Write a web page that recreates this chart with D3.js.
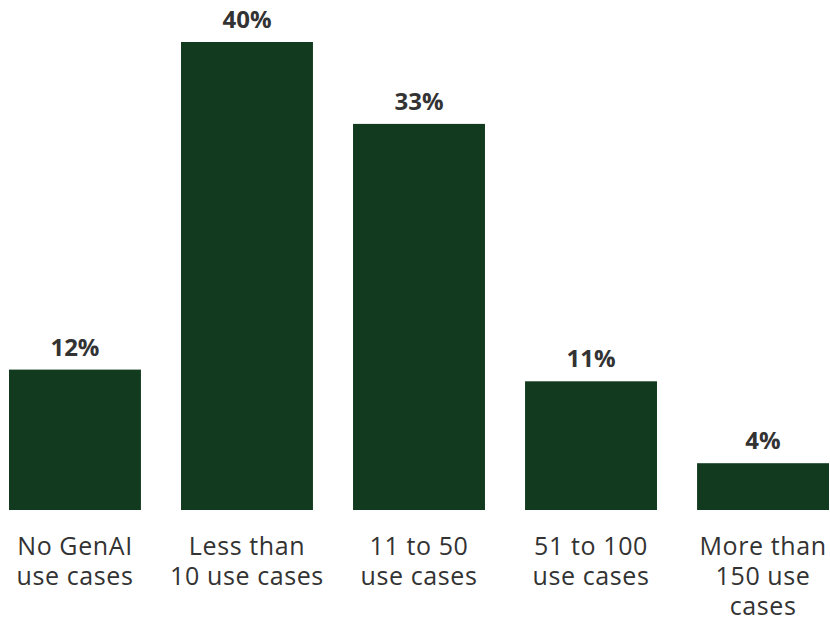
<!DOCTYPE html>
<html><head><meta charset="utf-8">
<script src="https://cdn.jsdelivr.net/npm/d3@7"></script>
<style>body{margin:0;background:#fff}svg{display:block}</style>
</head><body>
<script>
const categories = ["No GenAI use cases","Less than 10 use cases","11 to 50 use cases","51 to 100 use cases","More than 150 use cases"];
const categoryLines = [["No GenAI","use cases"],["Less than","10 use cases"],["11 to 50","use cases"],["51 to 100","use cases"],["More than","150 use","cases"]];
const values = [12,40,33,11,4];

const W=830,H=623;
const svg=d3.select("body").append("svg").attr("width",W).attr("height",H);
const x=d3.scaleBand().domain(categories).range([9,829]).paddingInner(0.233).paddingOuter(0);
const y=d3.scaleLinear().domain([0,40]).range([510,42]);

svg.selectAll("rect.bar").data(values).join("rect").attr("class","bar")
 .attr("x",(d,i)=>x(categories[i])).attr("width",x.bandwidth())
 .attr("y",d=>y(d)).attr("height",d=>y(0)-y(d)).attr("fill","#113a1e");

svg.selectAll("text.val").data(values).join("text").attr("class","val")
 .attr("x",(d,i)=>x(categories[i])+x.bandwidth()/2).attr("y",d=>y(d)-14)
 .attr("text-anchor","middle").attr("font-family","'Open Sans',sans-serif")
 .attr("font-weight","bold").attr("font-size",24).attr("fill","#333")
 .text(d=>d+"%");

const g=svg.selectAll("text.cat").data(categories).join("text").attr("class","cat")
 .attr("text-anchor","middle").attr("font-family","'Open Sans',sans-serif")
 .attr("font-size",25).attr("letter-spacing",0.6).attr("fill","#333")
 .attr("transform",d=>`translate(${x(d)+x.bandwidth()/2},555)`);
g.each(function(d,i){
  d3.select(this).selectAll("tspan").data(categoryLines[i]).join("tspan")
   .attr("x",0).attr("y",(t,j)=>j*30).text(t=>t);
});
</script>
</body></html>
